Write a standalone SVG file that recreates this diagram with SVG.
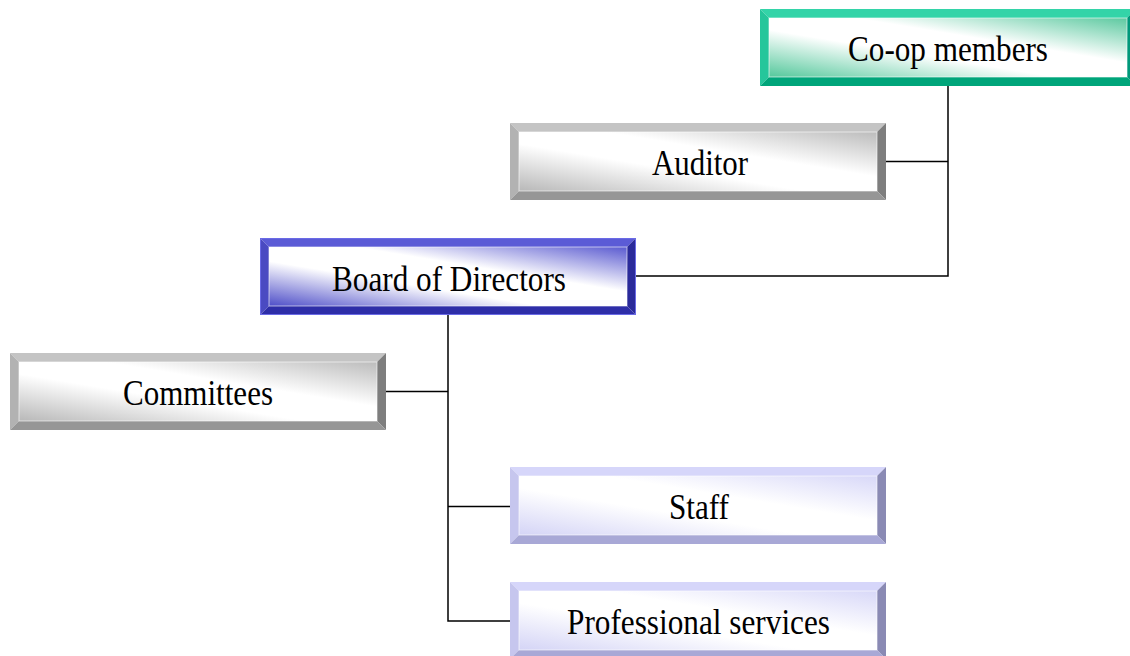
<svg xmlns="http://www.w3.org/2000/svg" width="1130" height="656" viewBox="0 0 1130 656">
  <style>
    .label { font-family: "Liberation Serif", "Times New Roman", serif; font-size: 36px; fill: #000; text-anchor: middle; }
    .wire { fill: none; stroke: #000; stroke-width: 1.5; }
    .teal .t { fill: #33d4a8; } .teal .l { fill: #25c69b; } .teal .r { fill: #00987a; } .teal .b { fill: #00a57a; } .teal .f { fill: url(#gTeal); }
    .gray .t { fill: #c4c4c4; } .gray .l { fill: #b2b2b2; } .gray .r { fill: #7e7e7e; } .gray .b { fill: #969696; } .gray .f { fill: url(#gGray); }
    .blue .t { fill: #5b5bd6; } .blue .l { fill: #4a4ac2; } .blue .r { fill: #2a2a9a; } .blue .b { fill: #2e2ea8; } .blue .f { fill: url(#gBlue); }
    .lav .t { fill: #d6d6fa; } .lav .l { fill: #c6c6ee; } .lav .r { fill: #8a8ab4; } .lav .b { fill: #a8a8d6; } .lav .f { fill: url(#gLav); }
    .f { stroke: #ffffff; stroke-opacity: 0.6; stroke-width: 1; }
  </style>
  <defs>
    <linearGradient id="gTeal" x1="0" y1="1" x2="1" y2="0">
      <stop offset="0" stop-color="#55c89c"/><stop offset="0.4" stop-color="#ffffff"/><stop offset="0.62" stop-color="#ffffff"/><stop offset="1" stop-color="#5cc9a0"/>
    </linearGradient>
    <linearGradient id="gGray" x1="0" y1="1" x2="1" y2="0">
      <stop offset="0" stop-color="#b8b8b8"/><stop offset="0.4" stop-color="#ffffff"/><stop offset="0.62" stop-color="#ffffff"/><stop offset="1" stop-color="#bcbcbc"/>
    </linearGradient>
    <linearGradient id="gBlue" x1="0" y1="1" x2="1" y2="0">
      <stop offset="0" stop-color="#4e4ec8"/><stop offset="0.38" stop-color="#ffffff"/><stop offset="0.62" stop-color="#ffffff"/><stop offset="1" stop-color="#5a5ad0"/>
    </linearGradient>
    <linearGradient id="gLav" x1="0" y1="1" x2="1" y2="0">
      <stop offset="0" stop-color="#d4d4f6"/><stop offset="0.4" stop-color="#ffffff"/><stop offset="0.62" stop-color="#ffffff"/><stop offset="1" stop-color="#d8d8f8"/>
    </linearGradient>
  </defs>

  <!-- connectors -->
  <g id="connectors" class="wire">
    <polyline points="948,86 948,276 636,276"/>
    <line x1="886" y1="161.5" x2="948" y2="161.5"/>
    <polyline points="448,315 448,621 510,621"/>
    <line x1="386" y1="391.5" x2="448" y2="391.5"/>
    <line x1="448" y1="506.5" x2="510" y2="506.5"/>
  </g>

  <!-- bevelled boxes: 376 x 77, bevel 9 -->
  <g id="coop-members" class="teal" transform="translate(760,9)">
    <polygon class="t" points="0,0 376,0 367,9 9,9"/>
    <polygon class="l" points="0,0 9,9 9,68 0,77"/>
    <polygon class="r" points="376,0 376,77 367,68 367,9"/>
    <polygon class="b" points="0,77 9,68 367,68 376,77"/>
    <rect class="f" x="9" y="9" width="358" height="59"/>
    <text class="label" x="188" y="51.5" textLength="200" lengthAdjust="spacingAndGlyphs">Co-op members</text>
  </g>

  <g id="auditor" class="gray" transform="translate(510,123)">
    <polygon class="t" points="0,0 376,0 367,9 9,9"/>
    <polygon class="l" points="0,0 9,9 9,68 0,77"/>
    <polygon class="r" points="376,0 376,77 367,68 367,9"/>
    <polygon class="b" points="0,77 9,68 367,68 376,77"/>
    <rect class="f" x="9" y="9" width="358" height="59"/>
    <text class="label" x="190" y="52" textLength="96" lengthAdjust="spacingAndGlyphs">Auditor</text>
  </g>

  <g id="board-of-directors" class="blue" transform="translate(260,238)">
    <polygon class="t" points="0,0 376,0 367,9 9,9"/>
    <polygon class="l" points="0,0 9,9 9,68 0,77"/>
    <polygon class="r" points="376,0 376,77 367,68 367,9"/>
    <polygon class="b" points="0,77 9,68 367,68 376,77"/>
    <rect class="f" x="9" y="9" width="358" height="59"/>
    <rect x="0.5" y="0.5" width="375" height="76" fill="none" stroke="#6a6ae6" stroke-width="1"/>
    <text class="label" x="189" y="53" textLength="234" lengthAdjust="spacingAndGlyphs">Board of Directors</text>
  </g>

  <g id="committees" class="gray" transform="translate(10,353)">
    <polygon class="t" points="0,0 376,0 367,9 9,9"/>
    <polygon class="l" points="0,0 9,9 9,68 0,77"/>
    <polygon class="r" points="376,0 376,77 367,68 367,9"/>
    <polygon class="b" points="0,77 9,68 367,68 376,77"/>
    <rect class="f" x="9" y="9" width="358" height="59"/>
    <text class="label" x="188" y="51.5" textLength="150" lengthAdjust="spacingAndGlyphs">Committees</text>
  </g>

  <g id="staff" class="lav" transform="translate(510,467)">
    <polygon class="t" points="0,0 376,0 367,9 9,9"/>
    <polygon class="l" points="0,0 9,9 9,68 0,77"/>
    <polygon class="r" points="376,0 376,77 367,68 367,9"/>
    <polygon class="b" points="0,77 9,68 367,68 376,77"/>
    <rect class="f" x="9" y="9" width="358" height="59"/>
    <text class="label" x="189" y="52" textLength="60" lengthAdjust="spacingAndGlyphs">Staff</text>
  </g>

  <g id="professional-services" class="lav" transform="translate(510,582)">
    <polygon class="t" points="0,0 376,0 367,9 9,9"/>
    <polygon class="l" points="0,0 9,9 9,68 0,77"/>
    <polygon class="r" points="376,0 376,77 367,68 367,9"/>
    <polygon class="b" points="0,77 9,68 367,68 376,77"/>
    <rect class="f" x="9" y="9" width="358" height="59"/>
    <text class="label" x="188.5" y="52" textLength="263" lengthAdjust="spacingAndGlyphs">Professional services</text>
  </g>
</svg>
